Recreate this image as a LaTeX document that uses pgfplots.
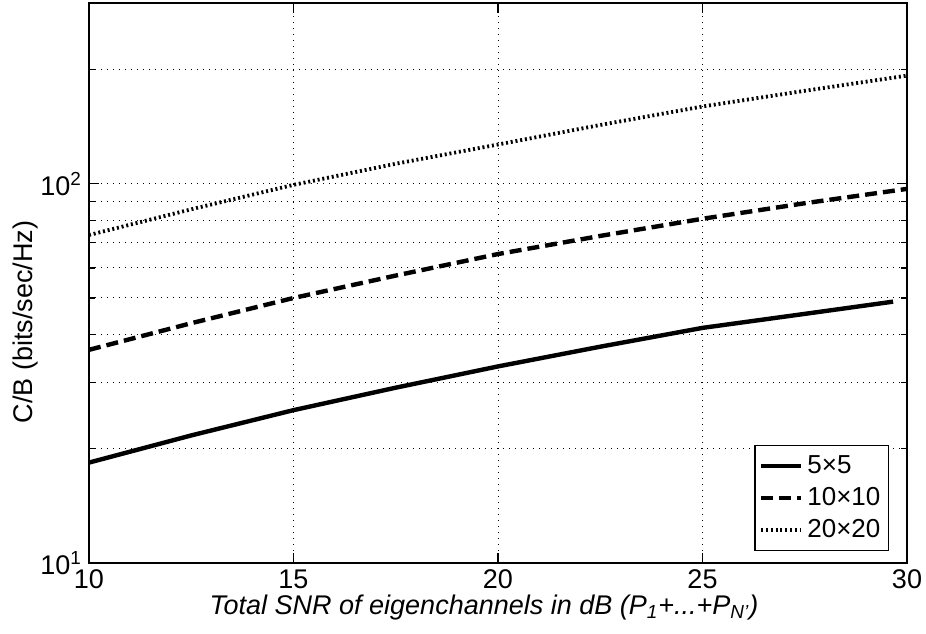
\documentclass[border=0pt]{standalone}
\usepackage{fontspec}
\setmainfont{Liberation Sans}
\usepackage{pgfplots}
\pgfplotsset{compat=1.18}
\usetikzlibrary{calc}

\begin{document}
\begin{tikzpicture}
\begin{axis}[
  scale only axis, width=409pt, height=280pt,
  xmin=10, xmax=30, ymode=log, ymin=10, ymax=300,
  xtick={10,15,20,25,30},
  ytick={10,100}, yticklabels={10\textsuperscript{1},10\textsuperscript{2}},
  minor ytick={20,30,40,50,60,70,80,90,200},
  grid=both,
  major grid style={black, line width=0.5pt, dash pattern=on 0.6pt off 2.4pt},
  minor grid style={black, line width=0.5pt, dash pattern=on 0.6pt off 2.4pt},
  tick align=inside, major tick length=5pt, minor tick length=3pt,
  axis line style={line width=0.8pt},
  tick style={black, line width=0.6pt},
  ticklabel style={font=\fontsize{13.5}{15}\selectfont},
  /pgf/number format/assume math mode=true,
  xlabel={\itshape Total SNR of eigenchannels in dB (P\textsubscript{1}+...+P\textsubscript{N'})},
  ylabel={C/B (bits/sec/Hz)},
  xlabel style={yshift=4pt, xshift=-7pt},
  ylabel style={at={(axis description cs:-0.078,0.43)}, anchor=center},
  label style={font=\fontsize{13.5}{15}\selectfont},
  legend style={at={(0.978,0.021)}, anchor=south east, draw=black, line width=0.6pt,
    font=\fontsize{13}{15}\selectfont, row sep=1.5pt, inner xsep=2pt, inner ysep=3pt},
  legend cell align=left,
  legend image code/.code={\draw[#1] (0pt,0pt) -- (20pt,0pt);},
]
\addplot[black, line width=2.2pt] coordinates {
 (10,18.4) (12.5,21.7) (15,25.3) (17.5,29.0) (20,33.0) (22.5,37.2) (25,41.7) (27.5,45.4) (29.66,48.9)};
\addlegendentry{5×5}
\addplot[black, line width=2.2pt, dash pattern=on 6pt off 3pt] coordinates {
 (10,36.5) (12.5,42.9) (15,50.0) (17.5,57.3) (20,65.3) (22.5,72.9) (25,80.9) (27.5,88.9) (30,97.0)};
\addlegendentry{10×10}
\addplot[black, line width=1.9pt, dash pattern=on 1pt off 1.4pt] coordinates {
 (10,73.3) (12.5,85.7) (15,99.4) (17.5,113) (20,127) (22.5,143) (25,160) (27.5,176) (30,193)};
\addlegendentry{20×20}
\end{axis}
\pgfresetboundingbox
\path ($(current axis.south west)+(-44.5pt,-35.5pt)$) rectangle ($(current axis.north east)+(9.5pt,1.5pt)$);
\end{tikzpicture}
\end{document}
